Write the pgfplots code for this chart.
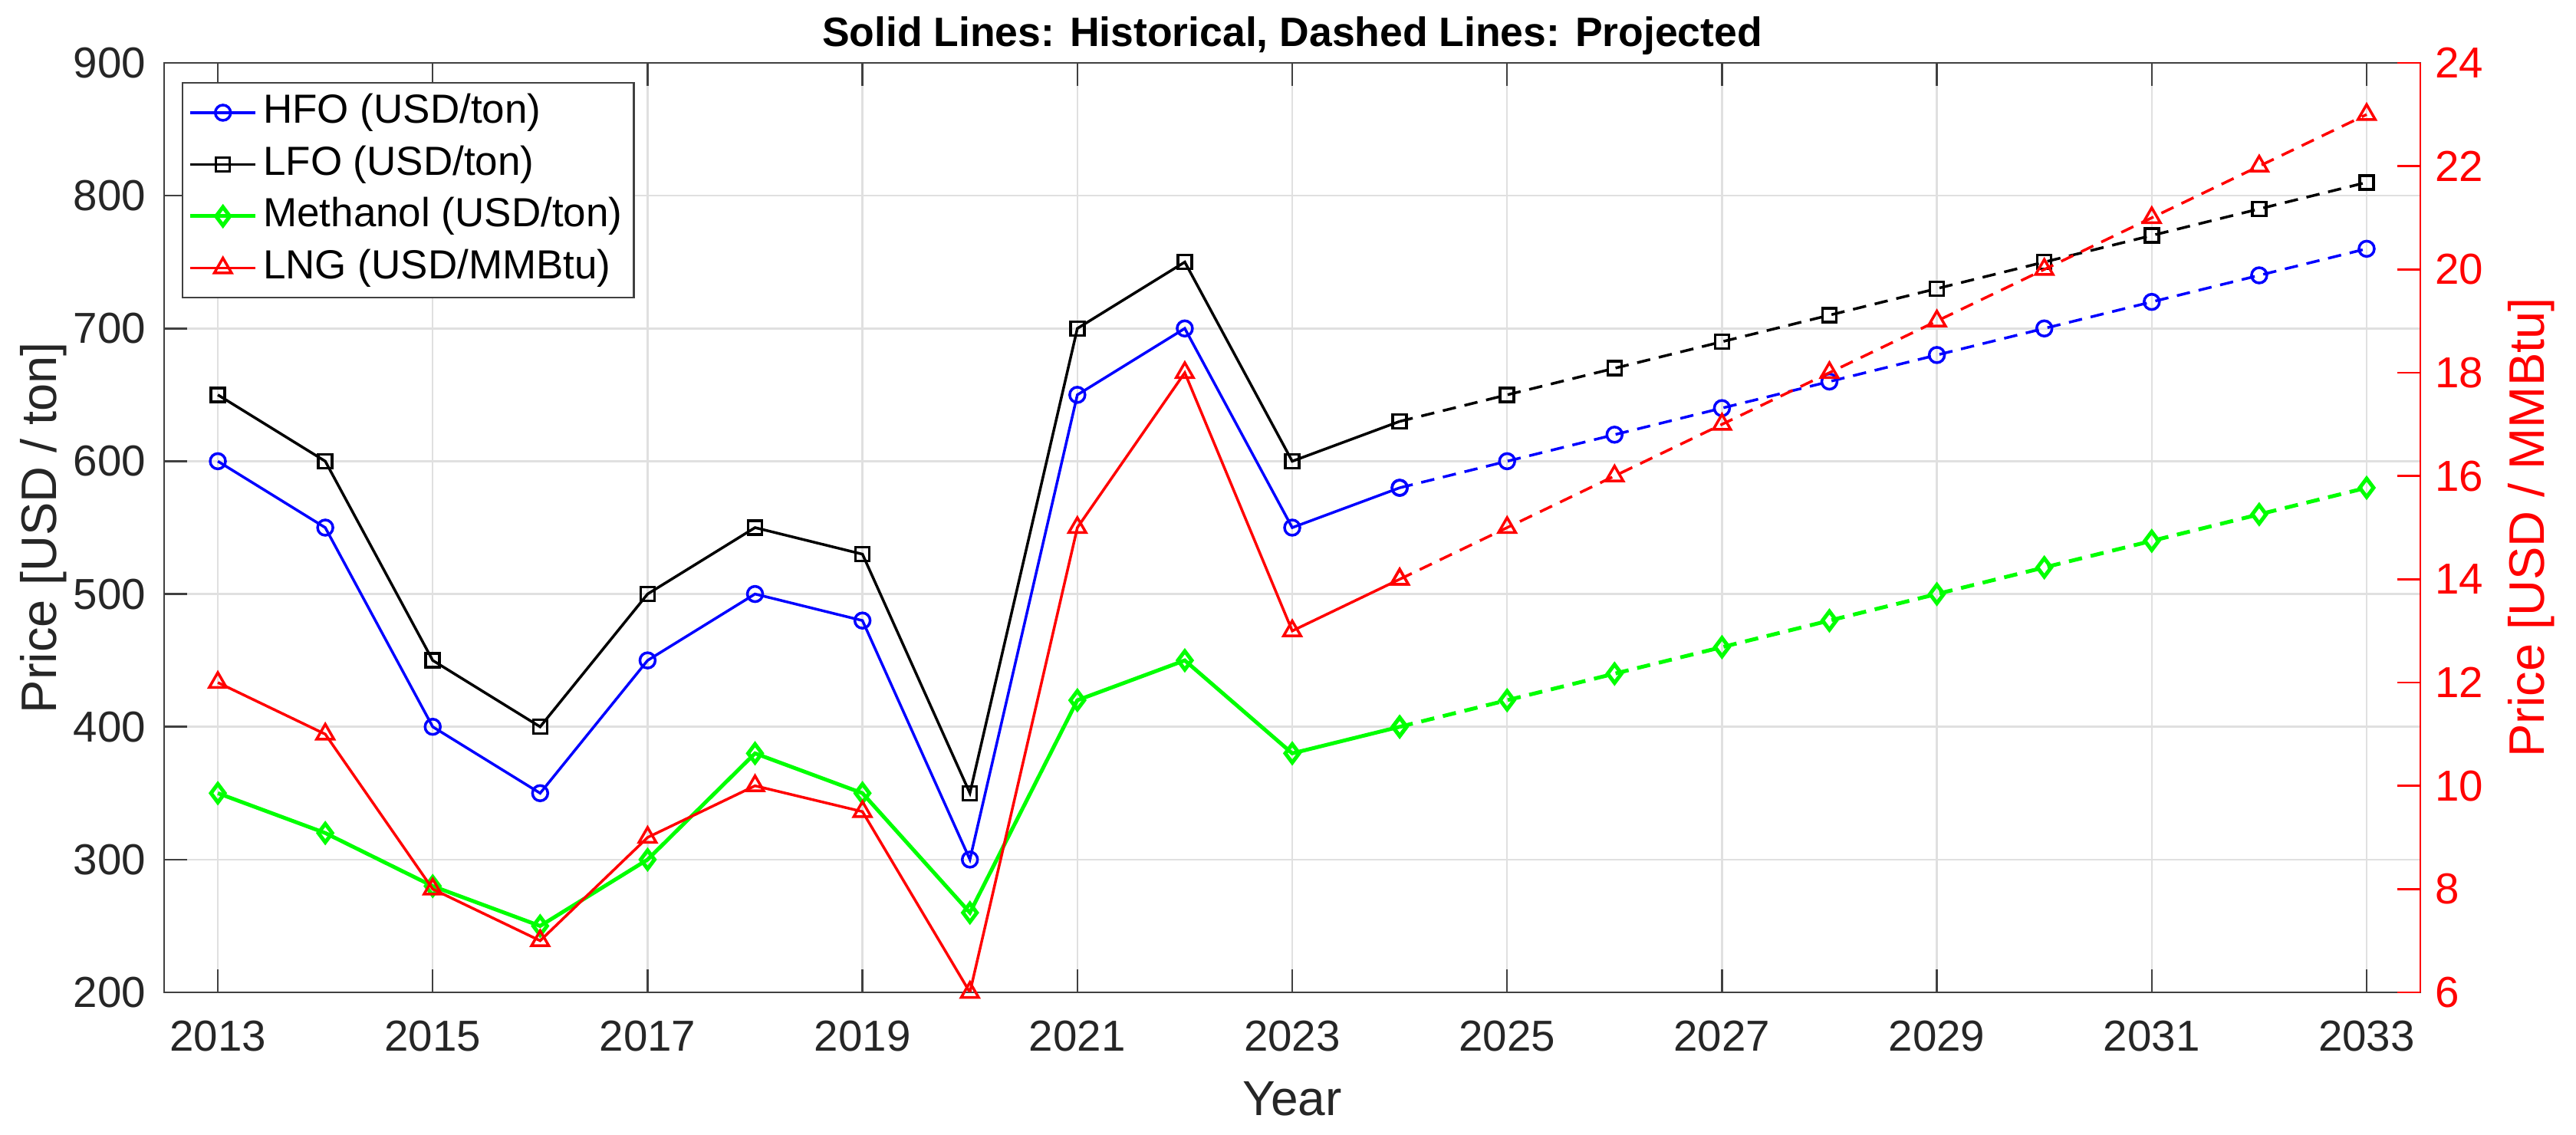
\documentclass[border=0pt]{standalone}
\usepackage{fontspec}
\setmainfont{Liberation Sans}
\usepackage{pgfplots}
\usepackage{pgfplotstable}
\pgfplotsset{compat=1.18}

\pgfplotstableread{
year hfo lfo meth lng
2013 600 650 350 12
2014 550 600 320 11
2015 400 450 280 8
2016 350 400 250 7
2017 450 500 300 9
2018 500 550 380 10
2019 480 530 350 9.5
2020 300 350 260 6
2021 650 700 420 15
2022 700 750 450 18
2023 550 600 380 13
2024 580 630 400 14
}\hist

\pgfplotstableread{
year hfo lfo meth lng
2024 580 630 400 14
2025 600 650 420 15
2026 620 670 440 16
2027 640 690 460 17
2028 660 710 480 18
2029 680 730 500 19
2030 700 750 520 20
2031 720 770 540 21
2032 740 790 560 22
2033 760 810 580 23
}\proj

\definecolor{axgray}{gray}{0.25}
\definecolor{gridgray}{gray}{0.88}

\begin{document}
\begin{tikzpicture}
\useasboundingbox (0,0) rectangle (671.8bp,296bp);
\begin{axis}[
  at={(42.8bp,37.2bp)}, anchor=south west,
  scale only axis, width=588.4bp, height=242.4bp,
  xmin=2012.5, xmax=2033.5, ymin=200, ymax=900,
  xtick={2013,2015,...,2033}, ytick={200,300,...,900},
  grid=major, major grid style={draw=gridgray, line width=0.5bp},
  axis line style={draw=axgray, line width=0.5bp},
  tick style={draw=axgray, line width=0.5bp},
  tick align=inside, major tick length=6bp,
  xtick pos=both, ytick pos=left,
  /pgf/number format/1000 sep={},
  /pgf/number format/assume math mode=true,
  xticklabel style={font=\fontsize{11.3bp}{13bp}\selectfont, text=black!85, inner sep=0pt, anchor=north, yshift=-7.2bp},
  yticklabel style={font=\fontsize{11.3bp}{13bp}\selectfont, text=black!85, inner sep=0pt, anchor=east, xshift=-4.6bp},
  xlabel={Year},
  xlabel style={font=\fontsize{12.8bp}{15bp}\selectfont, text=black!85, at={(axis description cs:0.5,-0.1328)}, anchor=base, inner sep=0pt},
  ylabel={Price [USD / ton]},
  ylabel style={font=\fontsize{13bp}{15bp}\selectfont, text=black!85, at={(axis description cs:-0.0642,0.5)}, anchor=north, rotate=0, inner sep=0pt},
  title={\bfseries Solid Lines: Historical, Dashed Lines: Projected},
  every axis title shift=0pt,
  title style={font=\fontsize{10.7bp}{12bp}\selectfont, at={(axis description cs:0.5,1.018)}, anchor=base, inner sep=0pt},
  legend style={at={(axis description cs:0.0078,0.9794)}, anchor=north west,
    draw=axgray, line width=0.5bp, fill=white,
    font=\fontsize{10.6bp}{12bp}\selectfont,
    nodes={inner sep=1.5bp, text height=8bp, text depth=2.5bp},
    inner xsep=1.5bp, inner ysep=1bp},
  legend cell align=left,
]
\addplot[blue, line width=0.7bp, mark=o, mark size=2bp, mark options={solid}] table[x=year,y=hfo]{\hist};
\addlegendentry{HFO (USD/ton)}
\addplot[black, line width=0.7bp, mark=square, mark size=1.8bp, mark options={solid}] table[x=year,y=lfo]{\hist};
\addlegendentry{LFO (USD/ton)}
\addplot[green, line width=1bp, mark=diamond, mark size=2.4bp, mark options={solid}] table[x=year,y=meth]{\hist};
\addlegendentry{Methanol (USD/ton)}
\addlegendimage{red, line width=0.7bp, mark=triangle, mark size=2.6bp, mark options={solid}}
\addlegendentry{LNG (USD/MMBtu)}
\addplot[forget plot, blue, line width=0.7bp, dash pattern=on 3.5bp off 2.3bp, mark=o, mark size=2bp, mark options={solid}] table[x=year,y=hfo]{\proj};
\addplot[forget plot, black, line width=0.7bp, dash pattern=on 3.5bp off 2.3bp, mark=square, mark size=1.8bp, mark options={solid}] table[x=year,y=lfo]{\proj};
\addplot[forget plot, green, line width=1bp, dash pattern=on 3.5bp off 2.3bp, mark=diamond, mark size=2.4bp, mark options={solid}] table[x=year,y=meth]{\proj};
\end{axis}
\begin{axis}[
  at={(42.8bp,37.2bp)}, anchor=south west,
  scale only axis, width=588.4bp, height=242.4bp,
  xmin=2012.5, xmax=2033.5, ymin=6, ymax=24,
  ytick={6,8,...,24},
  axis x line=none, axis y line*=right,
  y axis line style={draw=red, line width=0.5bp, -},
  ytick style={draw=red, line width=0.5bp},
  tick align=inside, major tick length=6bp,
  ytick pos=right,
  /pgf/number format/assume math mode=true,
  yticklabel style={font=\fontsize{11.3bp}{13bp}\selectfont, text=red, inner sep=0pt, anchor=west, xshift=3.7bp},
  ylabel={Price [USD / MMBtu]},
  ylabel style={font=\fontsize{13bp}{15bp}\selectfont, text=red, at={(axis description cs:1.0386,0.5)}, anchor=north, rotate=0, inner sep=0pt},
]
\addplot[red, line width=0.7bp, mark=triangle, mark size=2.6bp, mark options={solid}] table[x=year,y=lng]{\hist};
\addplot[red, line width=0.7bp, dash pattern=on 3.5bp off 2.3bp, mark=triangle, mark size=2.6bp, mark options={solid}] table[x=year,y=lng]{\proj};
\end{axis}
\end{tikzpicture}
\end{document}
